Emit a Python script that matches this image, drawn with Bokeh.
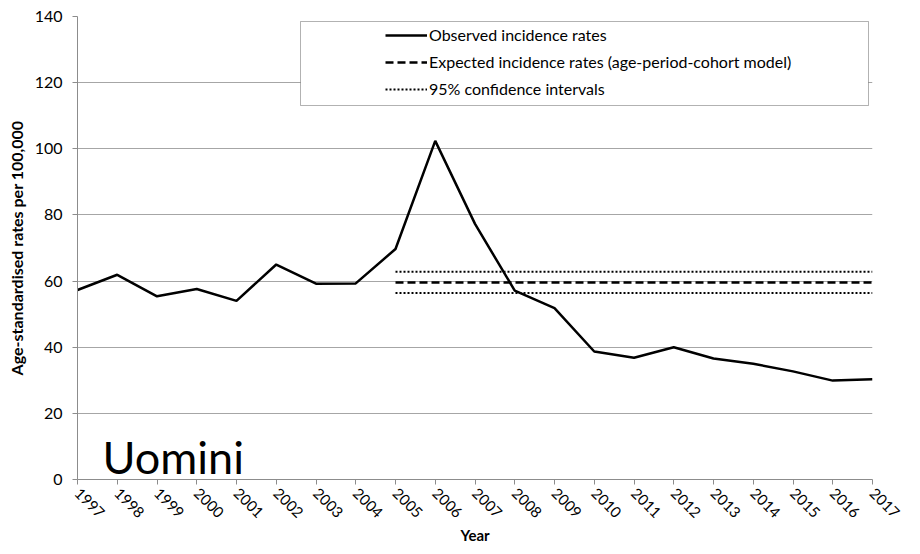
import math
from bokeh.plotting import figure
from bokeh.models import (ColumnDataSource, Range1d, FixedTicker, SingleIntervalTicker,
                          Legend, LegendItem, Label, BoxAnnotation)
from bokeh.embed import file_html
from bokeh.resources import INLINE

years = list(range(1997, 2018))
observed = [57.3, 61.9, 55.4, 57.6, 54.0, 65.0, 59.2, 59.3, 69.7, 102.4, 77.3,
            57.1, 51.8, 38.7, 36.8, 40.0, 36.6, 35.0, 32.7, 29.9, 30.3]
model_years = list(range(2005, 2018))
expected_value = 59.6
ci_upper_value = 62.8
ci_lower_value = 56.4

expected = [expected_value] * len(model_years)
ci_upper = [ci_upper_value] * len(model_years)
ci_lower = [ci_lower_value] * len(model_years)

FONT = "Lato"

p = figure(frame_width=795, frame_height=463,
           min_border_left=77, min_border_right=32, min_border_top=16, min_border_bottom=59,
           x_range=Range1d(1997, 2017), y_range=Range1d(0, 140),
           output_backend="svg", toolbar_location=None)
p.outline_line_color = None
p.background_fill_color = "white"
p.border_fill_color = "white"

obs_src = ColumnDataSource(dict(x=years, y=observed))
mod_src = ColumnDataSource(dict(x=model_years, exp=expected, up=ci_upper, lo=ci_lower))

r_obs = p.line("x", "y", source=obs_src, line_color="black", line_width=2.5)
r_exp = p.line("x", "exp", source=mod_src, line_color="black", line_width=2.5, line_dash="8 4")
r_up = p.line("x", "up", source=mod_src, line_color="black", line_width=2, line_dash="2 2")
r_lo = p.line("x", "lo", source=mod_src, line_color="black", line_width=2, line_dash="2 2")

# axes
p.xaxis.ticker = FixedTicker(ticks=years)
p.xaxis.major_label_orientation = -math.pi / 4
p.yaxis.ticker = SingleIntervalTicker(interval=20)
for ax in (p.xaxis, p.yaxis):
    ax.axis_line_color = "#8c8c8c"
    ax.major_tick_line_color = "#8c8c8c"
    ax.major_tick_out = 5
    ax.major_tick_in = 0
    ax.minor_tick_line_color = None
    ax.major_label_text_color = "black"
    ax.axis_label_text_font = FONT
    ax.axis_label_text_font_style = "bold"
    ax.axis_label_text_color = "black"
    ax.major_label_text_font = FONT
p.xaxis.major_label_text_font_size = "15px"
p.yaxis.major_label_text_font_size = "16px"
p.xaxis.axis_label_text_font_size = "15px"
p.yaxis.axis_label_text_font_size = "16px"
p.xaxis.axis_label = "Year"
p.yaxis.axis_label = "Age-standardised rates per 100,000"
p.yaxis.major_label_standoff = 10
p.xaxis.major_label_standoff = 6
p.yaxis.axis_label_standoff = 6
p.xaxis.axis_label_standoff = 0

p.xgrid.grid_line_color = None
p.ygrid.grid_line_color = "#a6a6a6"
p.ygrid.grid_line_width = 1

# legend frame
frame_box = BoxAnnotation(left=223, right=791, top=458, bottom=374,
                          left_units="screen", right_units="screen",
                          top_units="screen", bottom_units="screen",
                          fill_color="white", fill_alpha=1.0,
                          line_color="black", line_width=1)
p.add_layout(frame_box)

legend = Legend(items=[
    LegendItem(label="Observed incidence rates", renderers=[r_obs]),
    LegendItem(label="Expected incidence rates (age-period-cohort model)", renderers=[r_exp]),
    LegendItem(label="95% confidence intervals", renderers=[r_up]),
], location=(308, 380.5), margin=0, padding=5, spacing=7,
    glyph_width=42, glyph_height=20, label_standoff=2, label_height=20,
    label_text_font=FONT, label_text_font_size="16px", label_text_color="black",
    border_line_color=None, background_fill_alpha=0)
p.add_layout(legend)

p.add_layout(Label(x=25, y=23, x_units="screen", y_units="screen", text="Uomini",
                   text_font=FONT, text_font_size="45px", text_color="black",
                   text_baseline="alphabetic"))

open("out.html", "w").write(file_html(p, INLINE))
